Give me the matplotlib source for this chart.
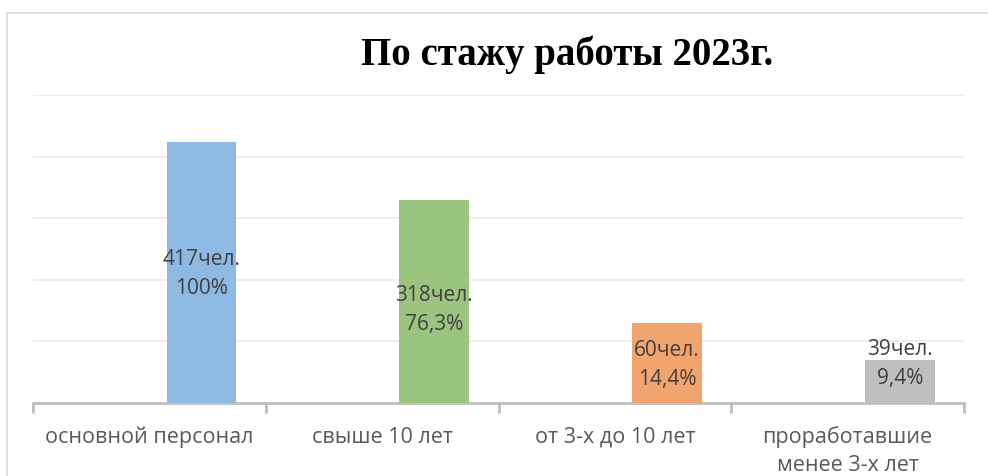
import matplotlib
matplotlib.use("Agg")
import matplotlib.pyplot as plt
from matplotlib.patches import Rectangle

categories = ["основной персонал", "свыше 10 лет", "от 3-х до 10 лет", "проработавшие\nменее 3-х лет"]
bar_heights = [424, 330, 130, 70]
people = [417, 318, 60, 39]
percents = ["100%", "76,3%", "14,4%", "9,4%"]
colors = ["#8DB9E2", "#9BC57E", "#F2A46F", "#BFBFBF"]
title = "По стажу работы 2023г."

fig = plt.figure(figsize=(9.88, 4.76), dpi=100)
W, H = 988, 476
fig.patches.append(Rectangle((7 / W, -0.05), 1.1, (476 - 13) / H + 0.05, transform=fig.transFigure,
                             fill=False, edgecolor="#D9D9D9", linewidth=1.2))

ax = fig.add_axes([33 / W, 73 / H, (964 - 33) / W, (403 - 95) / H])
x = list(range(len(categories)))
offset = 0.224
xb = [i + offset for i in x]
ax.bar(xb, bar_heights, width=0.30, color=colors, zorder=3)

ax.set_xlim(-0.5, 3.5)
ax.set_ylim(0, 500)
ax.set_yticks([100, 200, 300, 400, 500])
ax.yaxis.grid(True, color="#EBEBEB", linewidth=1.2, zorder=0)
ax.tick_params(axis="y", left=False, labelleft=False)
for s in ["top", "right", "left"]:
    ax.spines[s].set_visible(False)
ax.spines["bottom"].set_color("#BFBFBF")
ax.spines["bottom"].set_linewidth(2)

ax.set_xticks(x)
ax.set_xticklabels(categories, fontsize=15.5, color="#595959", family="Open Sans", linespacing=1.4)
ax.tick_params(axis="x", length=0, pad=17)
ax.set_xticks([-0.5, 0.5, 1.5, 2.5, 3.5], minor=True)
ax.tick_params(axis="x", which="minor", length=7, width=2, color="#BFBFBF")

label_shift = [-3, -14, -3, 0]
for i, (xi, h, p, pc) in enumerate(zip(xb, bar_heights, people, percents)):
    yi = max(h / 2, 63) + label_shift[i]
    ax.text(xi, yi, f"{p}чел.\n{pc}", ha="center", va="center", fontsize=15,
            color="#404040", family="Open Sans", linespacing=1.5, zorder=4)

fig.text(567 / W, 1 - 55 / H, title, ha="center", va="center", fontsize=28,
         fontweight="bold", family="Liberation Serif", color="black")

fig.savefig("out.png", dpi=100)
